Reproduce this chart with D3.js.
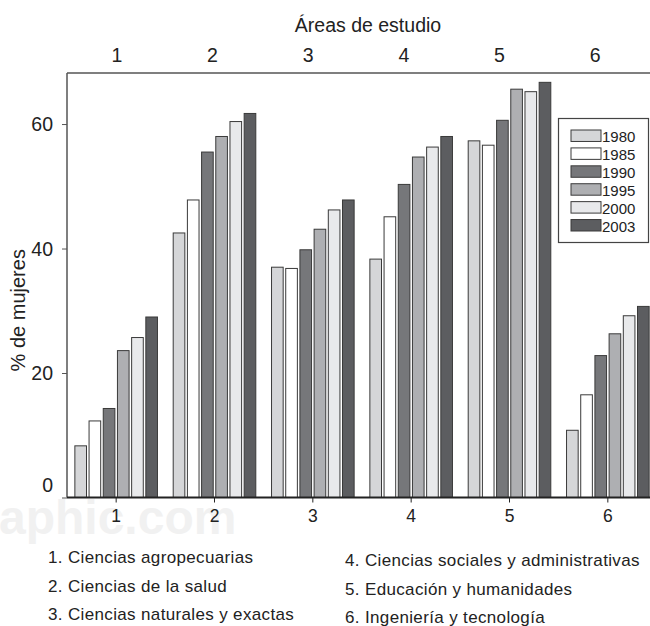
<!DOCTYPE html>
<html>
<head>
<meta charset="utf-8">
<script src="https://cdn.jsdelivr.net/npm/d3@7"></script>
<style>
  body { margin: 0; background: #fff; }
  svg { display: block; font-family: "Liberation Sans", Arial, sans-serif; }
</style>
</head>
<body>
<div id="chart"></div>
<script>
const areas = ["1", "2", "3", "4", "5", "6"];
const years = ["1980", "1985", "1990", "1995", "2000", "2003"];
const areaNames = [
  "1. Ciencias agropecuarias",
  "2. Ciencias de la salud",
  "3. Ciencias naturales y exactas",
  "4. Ciencias sociales y administrativas",
  "5. Educación y humanidades",
  "6. Ingeniería y tecnología"
];
// % de mujeres, one row per area, one value per year
const values = [
  [8.3, 12.3, 14.3, 23.6, 25.7, 29.0],
  [42.5, 47.8, 55.5, 58.0, 60.4, 61.7],
  [37.0, 36.8, 39.8, 43.1, 46.2, 47.8],
  [38.3, 45.1, 50.3, 54.7, 56.3, 58.0],
  [57.3, 56.6, 60.6, 65.6, 65.2, 66.7],
  [10.8, 16.5, 22.8, 26.3, 29.2, 30.7]
];
const yTicks = [0, 20, 40, 60];
const yearColors = ["#d5d6d8", "#ffffff", "#76777a", "#aeafb2", "#e8e9eb", "#5c5d60"];

const width = 650, height = 626;
const plotLeft = 67, plotTop = 73, plotBottom = 497.5, plotRight = 657;

const svg = d3.select("#chart").append("svg")
  .attr("width", width)
  .attr("height", height);

// faint watermark
svg.append("text")
  .attr("x", -1).attr("y", 534)
  .attr("font-size", 48).attr("font-weight", "bold")
  .attr("fill", "#f1f1f1")
  .text("aphic.com");

const x = d3.scaleBand().domain(areas).range([plotLeft, plotRight]).paddingInner(0.16).paddingOuter(0.08);
const xYear = d3.scaleBand().domain(years).range([0, x.bandwidth()]).paddingInner(0.18);
const xTop = d3.scaleBand().domain(areas).range([69, 643]);
const y = d3.scaleLinear().domain([0, 68.2]).range([plotBottom, plotTop]);
const color = d3.scaleOrdinal().domain(years).range(yearColors);

// bars
const groups = svg.append("g")
  .selectAll("g")
  .data(values)
  .join("g")
  .attr("transform", (d, i) => `translate(${x(areas[i])},0)`);

groups.selectAll("rect")
  .data(d => d.map((v, j) => ({ year: years[j], value: v })))
  .join("rect")
  .attr("x", d => xYear(d.year))
  .attr("y", d => y(d.value))
  .attr("width", xYear.bandwidth())
  .attr("height", d => y(0) - y(d.value))
  .attr("fill", d => color(d.year))
  .attr("stroke", "#3a3a3a")
  .attr("stroke-width", 1);

// frame line on top
svg.append("line")
  .attr("x1", plotLeft).attr("x2", width).attr("y1", plotTop).attr("y2", plotTop)
  .attr("stroke", "#555").attr("stroke-width", 1.5);

// left axis
const yAxis = svg.append("g")
  .attr("transform", `translate(${plotLeft},0)`)
  .call(d3.axisLeft(y).tickValues(yTicks).tickSize(5).tickPadding(9).tickFormat(d3.format("d")));
yAxis.select(".domain").attr("d", `M0,${plotTop}V${plotBottom}`).attr("stroke", "#555").attr("stroke-width", 1.5);
yAxis.selectAll(".tick line").attr("stroke", "#555");
yAxis.selectAll(".tick text")
  .attr("font-size", 19.5)
  .attr("fill", "#222")
  .attr("dy", d => d === 0 ? "-0.3em" : "0.34em");

// bottom axis
const xAxis = svg.append("g")
  .attr("transform", `translate(0,${plotBottom})`)
  .call(d3.axisBottom(x).tickSize(5).tickPadding(7));
xAxis.select(".domain").attr("d", `M${plotLeft},0H${width}`).attr("stroke", "#222").attr("stroke-width", 2);
xAxis.selectAll(".tick line").attr("stroke", "#222");
xAxis.selectAll(".tick text").attr("font-size", 17.5).attr("fill", "#222");

// top axis labels
const topAxis = svg.append("g")
  .attr("transform", "translate(0,62)")
  .call(d3.axisTop(xTop).tickSize(0).tickPadding(0));
topAxis.select(".domain").remove();
topAxis.selectAll(".tick text").attr("font-size", 19.5).attr("fill", "#222").attr("dy", 0);

svg.append("text")
  .attr("x", 368).attr("y", 32)
  .attr("text-anchor", "middle")
  .attr("font-size", 19.5)
  .attr("fill", "#222")
  .text("Áreas de estudio");

svg.append("text")
  .attr("transform", `translate(25,${(plotTop + plotBottom) / 2 + 25}) rotate(-90)`)
  .attr("text-anchor", "middle")
  .attr("font-size", 20)
  .attr("fill", "#222")
  .text("% de mujeres");

// legend
const legend = svg.append("g");
legend.append("rect")
  .attr("x", 558.5).attr("y", 118.5).attr("width", 90).attr("height", 124)
  .attr("fill", "#fff").attr("stroke", "#444").attr("stroke-width", 1.2);
const ly = d3.scaleBand().domain(years).range([130, 231]).paddingInner(0.36);
const items = legend.selectAll("g.item")
  .data(years)
  .join("g")
  .attr("class", "item");
items.append("rect")
  .attr("x", 571).attr("y", d => ly(d))
  .attr("width", 30).attr("height", ly.bandwidth())
  .attr("fill", d => color(d))
  .attr("stroke", "#3a3a3a");
items.append("text")
  .attr("x", 602).attr("y", d => ly(d) + ly.bandwidth() + 0.5)
  .attr("font-size", 15)
  .attr("fill", "#222")
  .text(d => d);

// area names under the chart
svg.append("g")
  .selectAll("text")
  .data(areaNames)
  .join("text")
  .attr("x", (d, i) => i < 3 ? 48 : 345)
  .attr("y", (d, i) => (i < 3 ? 563 : 566) + (i % 3) * 28.5)
  .attr("font-size", 17)
  .attr("letter-spacing", 0.35)
  .attr("fill", "#222")
  .text(d => d);
</script>
</body>
</html>
